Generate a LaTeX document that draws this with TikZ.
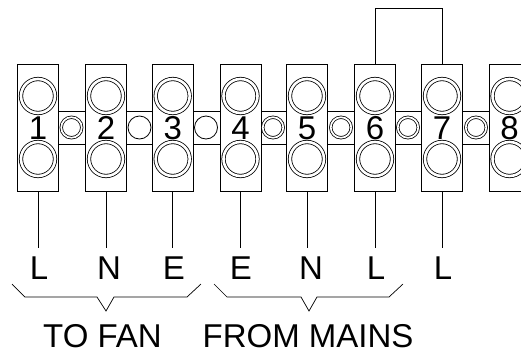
\documentclass[tikz,border=0pt]{standalone}
\usepackage{fontspec}
\setmainfont{Liberation Sans}
\tikzset{
    blockbox/.style={draw, fill=white, minimum width=41pt, minimum height=127.5pt, inner sep=0pt},
    bridgebox/.style={draw, minimum width=27pt, minimum height=33pt},
    bigring/.style={draw, circle, double, double distance=2.6pt, minimum size=34pt, inner sep=0pt},
    smallring/.style={draw, circle, double, double distance=1.7pt, minimum size=20.5pt, inner sep=0pt},
    plainring/.style={draw, circle, minimum size=23pt, inner sep=0pt},
    wirelabel/.style={minimum height=40pt, inner sep=0pt},
    captiontext/.style={anchor=base, inner sep=0pt},
}
\begin{document}
\begin{tikzpicture}[x=1pt, y=-1pt, line width=0.8pt, font=\fontsize{33}{33}\selectfont]
            \useasboundingbox (0,0) rectangle (521,351);
            \node [bridgebox] at (71.5,127.5) {};
            \node [bridgebox] at (139.5,127.5) {};
            \node [bridgebox] at (206.5,127.5) {};
            \node [bridgebox] at (273.5,127.5) {};
            \node [bridgebox] at (341,127.5) {};
            \node [bridgebox] at (408.5,127.5) {};
            \node [bridgebox] at (475.5,127.5) {};
            \node [blockbox] (b1) at (38,128) {1};
            \node [blockbox] (b2) at (106,128) {2};
            \node [blockbox] (b3) at (172.7,128) {3};
            \node [blockbox] (b4) at (240.5,128) {4};
            \node [blockbox] (b5) at (307,128) {5};
            \node [blockbox] (b6) at (375,128) {6};
            \node [blockbox] (b7) at (442,128) {7};
            \node [blockbox] (b8) at (509.5,128) {8};
            \node [bigring] at (b1 |- 0,96) {};
            \node [bigring] at (b1 |- 0,159) {};
            \node [bigring] at (b2 |- 0,96) {};
            \node [bigring] at (b2 |- 0,159) {};
            \node [bigring] at (b3 |- 0,96) {};
            \node [bigring] at (b3 |- 0,159) {};
            \node [bigring] at (b4 |- 0,96) {};
            \node [bigring] at (b4 |- 0,159) {};
            \node [bigring] at (b5 |- 0,96) {};
            \node [bigring] at (b5 |- 0,159) {};
            \node [bigring] at (b6 |- 0,96) {};
            \node [bigring] at (b6 |- 0,159) {};
            \node [bigring] at (b7 |- 0,96) {};
            \node [bigring] at (b7 |- 0,159) {};
            \node [bigring] at (b8 |- 0,96) {};
            \node [bigring] at (b8 |- 0,159) {};
            \node [smallring] at (71.5,127.5) {};
            \node [plainring] at (139.5,127.5) {};
            \node [plainring] at (206,127.5) {};
            \node [smallring] at (273,127.5) {};
            \node [smallring] at (341,127.5) {};
            \node [smallring] at (408,127.5) {};
            \node [smallring] at (476,127.5) {};
            \node [wirelabel] (l1) at (39,268) {L};
            \node [wirelabel] (l2) at (109,268) {N};
            \node [wirelabel] (l3) at (174,268) {E};
            \node [wirelabel] (l4) at (241,268) {E};
            \node [wirelabel] (l5) at (311,268) {N};
            \node [wirelabel] (l6) at (376,268) {L};
            \node [wirelabel] (l7) at (443,268) {L};
            \draw (b1.south) -- (b1.south |- l1.north);
            \draw (b2.south) -- (b2.south |- l2.north);
            \draw (b3.south) -- (b3.south |- l3.north);
            \draw (b4.south) -- (b4.south |- l4.north);
            \draw (b5.south) -- (b5.south |- l5.north);
            \draw (b6.south) -- (b6.south |- l6.north);
            \draw (b7.south) -- (b7.south |- l7.north);
            \draw (b6.north) -- ++(0,-55) -| (b7.north);
            \draw [line width=0.7pt] (12,284) -- (25,297) -- (97,297) -- (106,311) -- (114,297) -- (187,297) -- (201,284);
            \draw [line width=0.7pt] (214,284) -- (227,297) -- (301,297) -- (309,311) -- (317,297) -- (389,297) -- (403,284);
            \node [captiontext] (fan) at (102.5,347) {TO FAN};
            \node [captiontext] (mains) at (308,347) {FROM MAINS};
        \end{tikzpicture}
\end{document}
